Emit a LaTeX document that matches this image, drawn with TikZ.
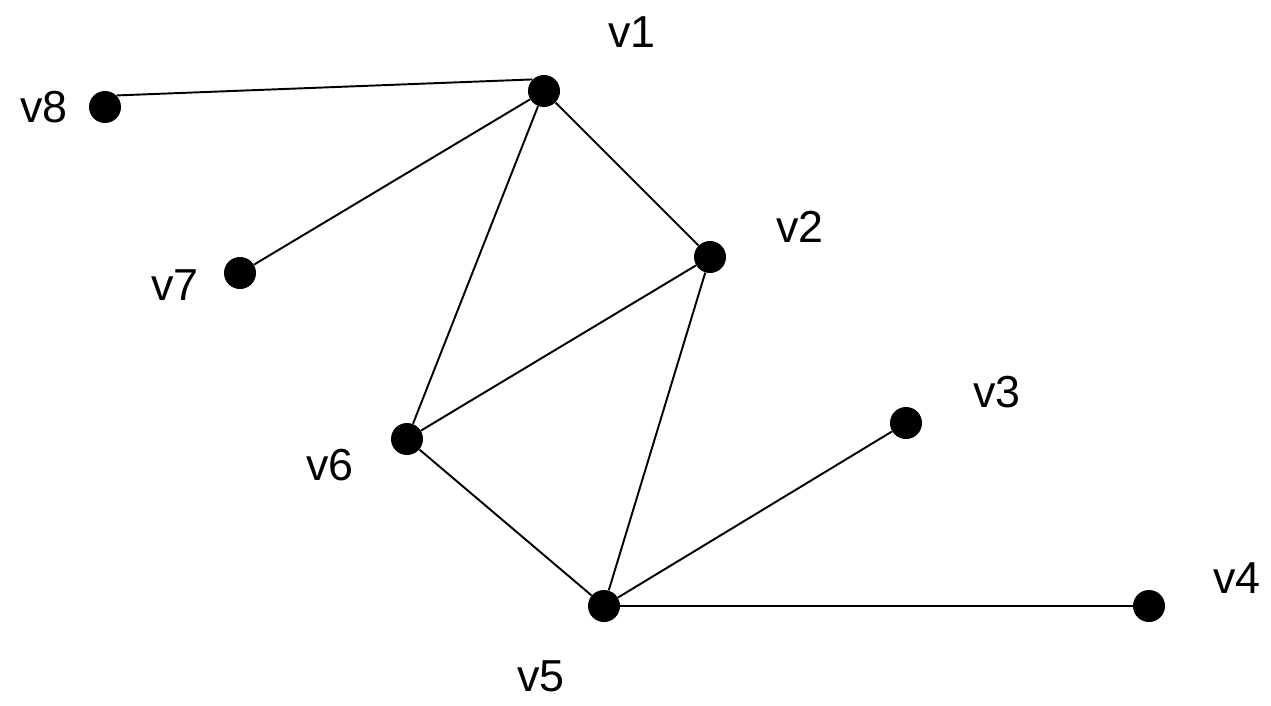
\documentclass[tikz,border=0pt]{standalone}
\usepackage{fontspec}
\setmainfont{Liberation Sans}
\usepackage{tikz}
\usetikzlibrary{positioning}

\begin{document}
\begin{tikzpicture}[
    vertex/.style={circle, fill=black, inner sep=0pt, minimum size=0.64cm},
    vlabel/.style={font=\fontsize{25.5}{30}\selectfont, inner sep=0pt},
    edge/.style={line width=1.1pt}
    ]
    \useasboundingbox (0,0) rectangle (25.42,14.1);
    \node[vertex] (v1) at (10.88,12.28) {};
    \node[vertex] (v2) at (14.20,8.96) {};
    \node[vertex] (v3) at (18.12,5.64) {};
    \node[vertex] (v4) at (22.98,1.98) {};
    \node[vertex] (v5) at (12.08,1.98) {};
    \node[vertex] (v6) at (8.14,5.32) {};
    \node[vertex] (v7) at (4.80,8.64) {};
    \node[vertex] (v8) at (2.10,11.96) {};
    \node[vlabel] (l1) at (12.64,13.46) {v1};
    \node[vlabel] (l2) at (16.00,9.56) {v2};
    \node[vlabel] (l3) at (19.94,6.26) {v3};
    \node[vlabel] (l4) at (24.74,2.54) {v4};
    \node[vlabel] (l5) at (10.82,0.58) {v5};
    \node[vlabel] (l6) at (6.60,4.80) {v6};
    \node[vlabel] (l7) at (3.50,8.40) {v7};
    \node[vlabel] (l8) at (0.88,11.96) {v8};
    \draw[edge] (v8.45) -- (v1.135);
    \draw[edge] (v1) -- (v7);
    \draw[edge] (v1) -- (v6);
    \draw[edge] (v1) -- (v2);
    \draw[edge] (v2) -- (v6);
    \draw[edge] (v2) -- (v5);
    \draw[edge] (v6) -- (v5);
    \draw[edge] (v5) -- (v3);
    \draw[edge] (v5) -- (v4);
  \end{tikzpicture}
\end{document}
